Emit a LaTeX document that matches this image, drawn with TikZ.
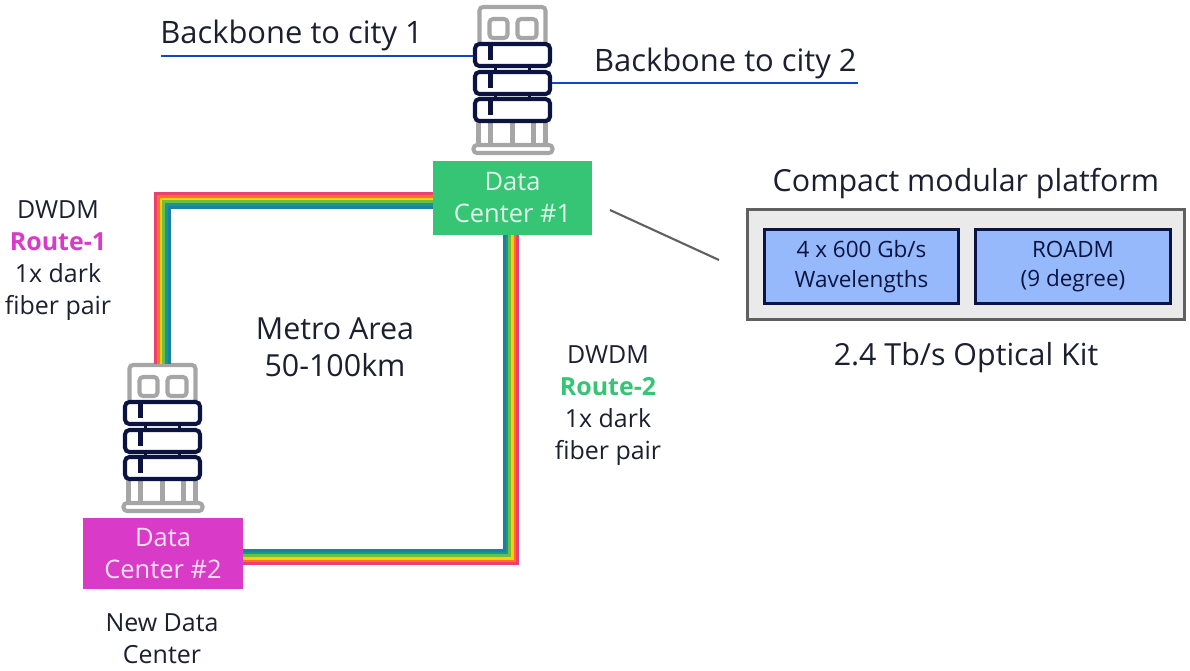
\documentclass[tikz,border=0pt]{standalone}
\usepackage{fontspec}
\setmainfont{Open Sans}
\usepackage{tikz}
\usetikzlibrary{positioning, calc}

\definecolor{inkdark}{HTML}{1B1F2E}
\definecolor{navy}{HTML}{0B1440}
\definecolor{rackgrey}{HTML}{A6A6A6}
\definecolor{linkblue}{HTML}{1048C0}
\definecolor{dcgreen}{HTML}{35C574}
\definecolor{dcpink}{HTML}{D93BC8}
\definecolor{kitgrey}{HTML}{EAEAEA}
\definecolor{kitedge}{HTML}{606060}
\definecolor{modblue}{HTML}{95B9FB}
\definecolor{rbA}{HTML}{EC4070}
\definecolor{rbB}{HTML}{FF6E2C}
\definecolor{rbC}{HTML}{FFD000}
\definecolor{rbD}{HTML}{6CBE45}
\definecolor{rbE}{HTML}{149A8C}
\definecolor{rbF}{HTML}{1C7FA6}

\tikzset{
  bigtext/.style={text=inkdark, align=center, inner sep=0pt, font=\fontsize{17.3}{21}\selectfont},
  citytext/.style={text=inkdark, inner sep=0pt, font=\fontsize{17.6}{21}\selectfont},
  smalltext/.style={text=inkdark, align=center, inner sep=0pt, font=\fontsize{14.2}{18.2}\selectfont},
  modtext/.style={text=navy, align=center, font=\fontsize{12.8}{16.8}\selectfont},
  dcbox/.style={minimum width=3.2cm, minimum height=1.5cm, inner sep=0pt, outer sep=0pt, align=center, font=\fontsize{14.5}{18.2}\selectfont},
  modbox/.style={modtext, draw=navy, line width=1.7pt, fill=modblue, minimum width=3.9cm, minimum height=1.47cm, inner sep=0pt},
  unitbox/.style={draw=navy, line width=2.3pt, rounded corners=2.5pt, fill=white, minimum width=1.5cm, minimum height=0.44cm, inner sep=0pt, outer sep=1pt},
  greyline/.style={draw=rackgrey, line width=2.3pt, rounded corners=2pt},
  link/.style={draw=linkblue, line width=1.4pt},
  rackicon/.pic={
    % Grey cabinet, drawn first so the units sit on it
    \draw[greyline] (-33,43) -- (-33,7) -- (33,7) -- (33,43);
    \draw[greyline] (-23,19) rectangle (-5,38);
    \draw[greyline] (5,19) rectangle (24,38);
    \foreach \legx in {-34,-22,0,21,33}
      \draw[draw=rackgrey, line width=2.3pt] (\legx,120) -- (\legx,146);
    \draw[greyline, fill=white] (-39,145) rectangle (40,153);
    % Dark units
    \node[unitbox] (-unitA) at (0,55) {};
    \node[unitbox] (-unitB) at (0,83) {};
    \node[unitbox] (-unitC) at (0,110) {};
    \foreach \uy in {43,71,98}
      \draw[draw=navy, line width=2.3pt] (-22,\uy) -- (-22,\uy+17);
    \foreach \tx in {-17,17}
      \draw[draw=navy, line width=1.4pt] (\tx,67) -- (\tx,71) (\tx,94) -- (\tx,98);
  }
}

\begin{document}
\begin{tikzpicture}[x=0.02cm,y=-0.02cm]
  \useasboundingbox (0,0) rectangle (1190,670);

  % Racks and data centers
  \pic (rackOne) at (512.5,0) {rackicon};
  \pic (rackTwo) at (162.5,358) {rackicon};
  \coordinate (topTwo) at (162.5,364);
  \node[dcbox, fill=dcgreen, text=white!85!dcgreen] (dcOne) at (512.5,198) {Data\\Center \#1};
  \node[dcbox, fill=dcpink, minimum height=1.42cm, text=white!85!dcpink] (dcTwo) at (163,553.5) {Data\\Center \#2};

  % Rainbow routes, outer stripe first
  \foreach \col/\off in {rbA/6.7,rbB/4,rbC/1.3,rbD/-1.3,rbE/-4,rbF/-6.7} {
    \draw[\col, line width=1.6pt] ($(dcOne.west)+(0,2.5-\off)$) -| ($(topTwo)+(-\off,0)$);
    \draw[\col, line width=1.6pt] ($(dcOne.south)+(-1.5+\off,0)$) |- ($(dcTwo.east)+(0,3.5+\off)$);
  }

  % Backbone links
  \coordinate (cityOne) at (161,56);
  \coordinate (cityTwo) at (858,83);
  \draw[link] (cityOne) -- (cityOne -| rackOne-unitA.west);
  \draw[link] (rackOne-unitB.east) -- (cityTwo);
  \node[citytext, anchor=base west] (cityOneLabel) at (160,43) {Backbone to city 1};
  \node[citytext, anchor=base east] (cityTwoLabel) at (857,71) {Backbone to city 2};

  % Route labels
  \node[smalltext] (routeOneLabel) at (58,261) {DWDM\\\textcolor{dcpink}{\bfseries Route-1}\\1x dark\\fiber pair};
  \node[smalltext] (routeTwoLabel) at (608,406) {DWDM\\\textcolor{dcgreen}{\bfseries Route-2}\\1x dark\\fiber pair};
  \node[bigtext] (metroLabel) at (335,347) {Metro Area\\50-100km};
  \node[smalltext] (newLabel) at (162,639) {New Data\\Center};

  % Optical kit
  \node[draw=kitedge, line width=1.7pt, fill=kitgrey, minimum width=8.74cm, minimum height=2.2cm, inner sep=0pt] (kitBox) at (966,264.5) {};
  \node[modbox] (waveBox) at (861.5,266.5) {4 x 600 Gb/s\\Wavelengths};
  \node[modbox] (roadmBox) at (1073,266.5) {ROADM\\(9 degree)};
  \node[bigtext] (kitTitle) at (966,184) {Compact modular platform};
  \node[bigtext] (kitLabel) at (966,358) {2.4 Tb/s Optical Kit};
  \coordinate (calloutA) at (610,210);
  \coordinate (calloutB) at (719,260);
  \draw[kitedge, line width=1.2pt] (calloutA) -- (calloutB);
\end{tikzpicture}
\end{document}
